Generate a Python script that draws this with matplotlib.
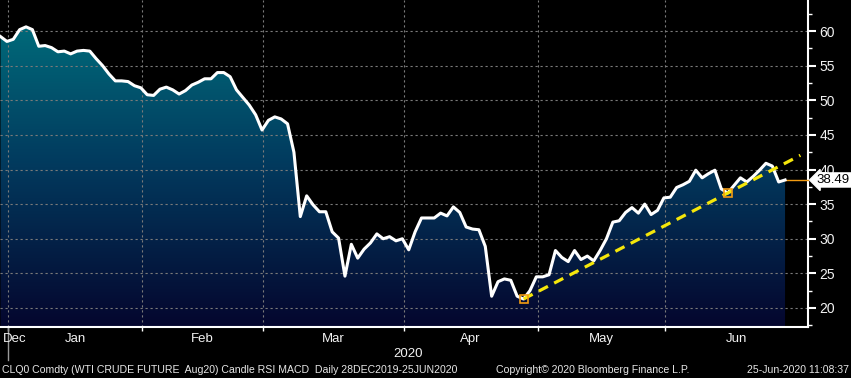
import numpy as np
import pandas as pd
import matplotlib
matplotlib.use('Agg')
import matplotlib.pyplot as plt
from matplotlib.colors import LinearSegmentedColormap
from matplotlib.patches import Polygon
from matplotlib.transforms import blended_transform_factory

# trading days 28DEC2019 - 25JUN2020
dates = pd.bdate_range('2019-12-30', '2020-06-25')
holidays = pd.to_datetime(['2020-01-01', '2020-01-20', '2020-02-17', '2020-04-10', '2020-05-25'])
dates = dates[~dates.isin(holidays)]

# CLQ0 close
prices = [
    59.2, 58.5, 58.8, 60.2, 60.6, 60.2, 57.8, 57.9, 57.6, 57.0,
    57.1, 56.7, 57.1, 57.2, 57.1, 56.0, 55.0, 53.8, 52.8, 52.8,
    52.7, 52.1, 51.8, 50.8, 50.7, 51.6, 51.9, 51.5, 50.9, 51.4,
    52.2, 52.6, 53.1, 53.1, 54.0, 54.0, 53.4, 51.5, 50.4, 49.3,
    47.9, 45.7, 47.1, 47.6, 47.3, 46.6, 42.5, 33.2, 36.2, 34.9,
    33.9, 33.9, 31.0, 30.1, 24.6, 29.2, 27.2, 28.5, 29.4, 30.7,
    30.0, 30.3, 29.7, 30.0, 28.4, 31.0, 33.0, 33.0, 33.0, 33.7,
    33.3, 34.6, 33.8, 31.7, 31.4, 31.3, 28.9, 21.7, 23.8, 24.2,
    24.0, 21.7, 21.3, 22.5, 24.5, 24.5, 24.8, 28.3, 27.3, 26.7,
    28.3, 27.0, 27.5, 26.8, 28.3, 30.0, 32.4, 32.6, 33.8, 34.5,
    33.7, 35.0, 33.5, 34.1, 35.9, 36.0, 37.4, 37.8, 38.3, 39.9,
    38.8, 39.4, 39.9, 37.2, 36.6, 37.7, 38.8, 38.2, 39.0, 39.9,
    40.9, 40.5, 38.2, 38.49,
]
last_price = 38.49

# trend line anchors (orange squares)
trend_idx = [82, 114]
trend_val = [21.3, 36.6]
trend_end = 125.4

y_ticks = [20, 25, 30, 35, 40, 45, 50, 55, 60]
month_names = ['Jan', 'Feb', 'Mar', 'Apr', 'May', 'Jun']

footer_left = 'CLQ0 Comdty (WTI CRUDE FUTURE  Aug20) Candle RSI MACD  Daily 28DEC2019-25JUN2020'
footer_mid = 'Copyright\u00a9 2020 Bloomberg Finance L.P.'
footer_right = '25-Jun-2020 11:08:37'

plt.rcParams['font.family'] = ['Liberation Sans', 'DejaVu Sans']

x = np.arange(len(prices))
ymin, ymax = 17.26, 64.48
xmin, xmax = -0.08, 126.6

fig = plt.figure(figsize=(8.51, 3.78), dpi=100, facecolor='black')
ax = fig.add_axes([0, 0.135, 0.9495, 0.865], facecolor='black')
ax.set_xlim(xmin, xmax)
ax.set_ylim(ymin, ymax)

# gradient fill under the line
cmap = LinearSegmentedColormap.from_list(
    'bbg', [(0.0, '#05062e'), (0.5, '#023a5e'), (1.0, '#00737f')])
grad = np.linspace(0, 1, 256).reshape(-1, 1)
verts = [(x[0], ymin)] + list(zip(x, prices)) + [(x[-1], ymin)]
patch = Polygon(verts, closed=True, fc='none', ec='none')
ax.add_patch(patch)
img = ax.imshow(grad, extent=[xmin, xmax, ymin, ymax], origin='lower',
                aspect='auto', cmap=cmap, zorder=1)
img.set_clip_path(patch)

# month boundaries
starts = []
for m in range(1, 7):
    first = np.where((dates.month == m) & (dates.year == 2020))[0][0]
    starts.append(first - 0.8)
bounds = starts + [xmax]
centers = [(bounds[k] + bounds[k + 1]) / 2 for k in range(6)]

ax.set_xticks(starts)
ax.set_xticklabels([])
ax.set_xticks(centers, minor=True)
ax.set_xticklabels(month_names, minor=True)
ax.tick_params(axis='x', which='major', length=3, width=1, color='white', direction='out')
ax.tick_params(axis='x', which='minor', length=0, pad=4, labelsize=9.5, labelcolor='#f2f2f2')

ax.yaxis.tick_right()
ax.set_yticks(y_ticks)
ax.set_yticks(np.arange(17.5, 64, 2.5), minor=True)
ax.tick_params(axis='y', which='major', length=6, width=1.5, color='white',
               labelsize=10, labelcolor='#f2f2f2', pad=2)
ax.tick_params(axis='y', which='minor', length=3, width=1, color='white')

ax.grid(True, which='major', color='#7a7a7a', linestyle=(0, (2, 2.5)), linewidth=0.8, zorder=0)
for s in ['top', 'left']:
    ax.spines[s].set_visible(False)
for s in ['bottom', 'right']:
    ax.spines[s].set_color('white')
    ax.spines[s].set_linewidth(1.5)

# price line
ax.plot(x, prices, color='white', lw=2.2, zorder=4, solid_joinstyle='round')

# trend line
slope = (trend_val[1] - trend_val[0]) / (trend_idx[1] - trend_idx[0])
tx = np.array([trend_idx[0], trend_end])
ty = trend_val[0] + slope * (tx - trend_idx[0])
ax.plot(tx, ty, color='#f5e60a', lw=2.3, dashes=(3.2, 2.2), zorder=5)
ax.plot(trend_idx, trend_val, ls='none', marker='s', ms=5.5, mfc='none',
        mec='#f39c12', mew=1.2, zorder=6)

# last price marker
trans = blended_transform_factory(ax.transAxes, ax.transData)
ax.plot([x[-1], xmax], [last_price, last_price], color='#f39c12', lw=1, zorder=3, clip_on=False)
ax.text(1.011, last_price, f'{last_price:.2f}', transform=trans, ha='left', va='center',
        fontsize=9.5, color='black', zorder=10,
        bbox=dict(boxstyle='larrow,pad=0.08', fc='white', ec='white'))

# Dec label, year separator, year
tx2 = blended_transform_factory(ax.transData, ax.transAxes)
ax.text(0.3, -0.018, 'Dec', transform=tx2, ha='left', va='top', fontsize=9.5, color='#f2f2f2')
ax.plot([starts[0], starts[0]], [0, -0.1], transform=tx2, color='#9a9a9a', lw=1, clip_on=False)
ax.text((starts[0] + xmax) / 2, -0.065, '2020', transform=tx2, ha='center', va='top',
        fontsize=9.5, color='#f2f2f2')

# footer
fig.text(0.002, 0.021, footer_left, ha='left', va='center', fontsize=7.6, color='#e6e6e6')
fig.text(0.583, 0.021, footer_mid, ha='left', va='center', fontsize=7.6, color='#e6e6e6')
fig.text(0.998, 0.021, footer_right, ha='right', va='center', fontsize=7.6, color='#e6e6e6')

fig.savefig('out.png', dpi=100, facecolor='black')
